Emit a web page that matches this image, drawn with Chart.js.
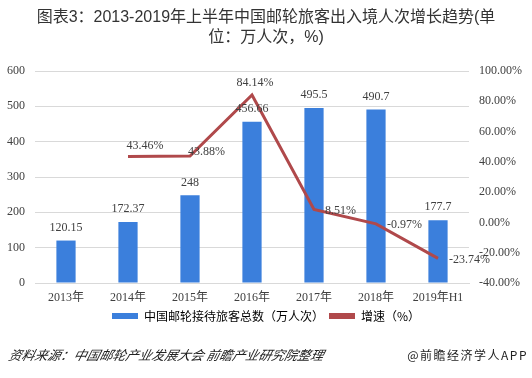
<!DOCTYPE html>
<html><head><meta charset="utf-8">
<script src="https://cdn.jsdelivr.net/npm/chart.js@4/dist/chart.umd.min.js"></script>
<style>
html,body{margin:0;padding:0;background:#fff;width:532px;height:378px;overflow:hidden;}
#wrap{position:relative;width:532px;height:378px;}
#c{position:absolute;left:0;top:0;}
#title{position:absolute;left:0;top:7px;width:532px;text-align:center;font-family:"Liberation Sans","Noto Sans CJK SC",sans-serif;font-size:16px;line-height:20px;color:#333;}
#src{position:absolute;left:9px;top:345px;font-family:"Noto Sans CJK SC",sans-serif;font-style:italic;font-size:13px;color:#222;transform:skewX(-14deg);}
#app{position:absolute;right:4px;top:346px;font-family:"Noto Sans CJK SC",sans-serif;font-size:12px;letter-spacing:1.5px;color:#222;}
</style></head>
<body><div id="wrap">
<canvas id="c" width="532" height="378"></canvas>
<div id="title">图表3：2013-2019年上半年中国邮轮旅客出入境人次增长趋势(单<br>位：万人次，%)</div>
<div id="src">资料来源：中国邮轮产业发展大会 前瞻产业研究院整理</div>
<div id="app">@前瞻经济学人APP</div>
</div>
<script>
const categories = ["2013年","2014年","2015年","2016年","2017年","2018年","2019年H1"];
const passengers = [120.15,172.37,248,456.66,495.5,490.7,177.7];
const growth = [null,43.46,43.88,84.14,8.51,-0.97,-23.74];
const leftTicks = [0,100,200,300,400,500,600];
const rightTicks = [-40,-20,0,20,40,60,80,100];

const labelFont = '12px "Liberation Serif","Noto Sans CJK SC",serif';
const labelPlugin = {
  id:'labels',
  afterDatasetsDraw(chart){
    const ctx = chart.ctx;
    ctx.save();
    ctx.font = labelFont;
    ctx.fillStyle = '#404040';
    const m0 = chart.getDatasetMeta(0);
    m0.data.forEach((el,i)=>{
      ctx.textAlign='center'; ctx.textBaseline='middle';
      ctx.fillText(String(passengers[i]), el.x, el.y-13);
    });
    const m1 = chart.getDatasetMeta(1);
    m1.data.forEach((el,i)=>{
      if(growth[i]===null) return;
      const t = growth[i].toFixed(2)+'%';
      ctx.textBaseline='middle';
      if(i===1){
        ctx.textAlign='center'; ctx.fillText(t, el.x+17, el.y-11);
      } else if(i===3){
        ctx.textAlign='center'; ctx.fillText(t, el.x+3, el.y-12);
      } else if(i===2){
        ctx.textAlign='left'; ctx.fillText(t, el.x-2, el.y-4);
      } else {
        ctx.textAlign='left'; ctx.fillText(t, el.x+11, el.y+1);
      }
    });
    ctx.restore();
  }
};

new Chart(document.getElementById('c'),{
  data:{
    labels:categories,
    datasets:[
      {type:'bar',label:'中国邮轮接待旅客总数（万人次）',data:passengers,backgroundColor:'#3b7fdc',yAxisID:'y',barPercentage:0.62,categoryPercentage:0.5,order:2},
      {type:'line',label:'增速（%）',data:growth,borderColor:'#b0494b',backgroundColor:'#b0494b',borderWidth:3,pointRadius:0,yAxisID:'y1',order:1,spanGaps:false}
    ]
  },
  options:{
    responsive:false,animation:false,
    layout:{padding:{top:71,bottom:46,left:0,right:0}},
    plugins:{
      legend:{position:'bottom',labels:{font:{size:12,family:'"Noto Sans CJK SC",sans-serif'},color:'#333',boxWidth:26,boxHeight:6,padding:5,
        generateLabels(chart){
          return chart.data.datasets.map((d,i)=>({text:d.label,fillStyle:d.type==='bar'?d.backgroundColor:d.borderColor,strokeStyle:'rgba(0,0,0,0)',lineWidth:0,datasetIndex:i}));
        }}},
      title:{display:false},tooltip:{enabled:false}
    },
    scales:{
      x:{grid:{display:false},border:{display:true,color:'#d9d9d9'},ticks:{font:{size:12,family:'"Liberation Serif","Noto Sans CJK SC",serif'},color:'#404040',padding:0},
        afterFit(s){s.height=22;}},
      y:{position:'left',min:0,max:600,afterBuildTicks(s){s.ticks=leftTicks.map(v=>({value:v}));},
        grid:{color:'#d9d9d9',drawTicks:false},border:{display:false},
        ticks:{font:{size:12,family:'"Liberation Serif",serif'},color:'#404040',padding:10},
        afterFit(s){s.width=35;}},
      y1:{position:'right',min:-40,max:100,afterBuildTicks(s){s.ticks=rightTicks.map(v=>({value:v}));},
        grid:{display:false,drawTicks:false},border:{display:false},
        ticks:{font:{size:12,family:'"Liberation Serif",serif'},color:'#404040',padding:10,callback:v=>v.toFixed(2)+'%'},
        afterFit(s){s.width=63;}}
    }
  },
  plugins:[labelPlugin]
});
</script>
</body></html>
